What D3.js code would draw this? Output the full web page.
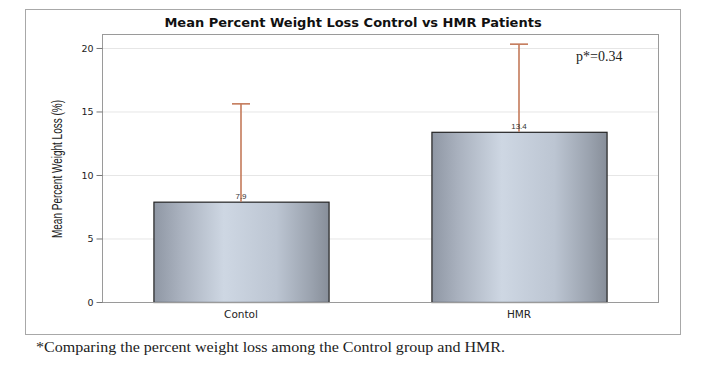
<!DOCTYPE html>
<html><head><meta charset="utf-8">
<script src="https://cdn.jsdelivr.net/npm/d3@7"></script>
<style>body{margin:0;background:#fff}svg{display:block}</style>
</head><body><svg id="c" width="706" height="365"></svg>
<script>
const categories = ["Contol", "HMR"];
const means = [7.9, 13.4];
const upperErr = [15.6, 20.3];
const valueLabels = ["7.9", "13.4"];
const yTicks = [0, 5, 10, 15, 20];
const title = "Mean Percent Weight Loss Control vs HMR Patients";
const yTitle = "Mean Percent Weight Loss (%)";
const pText = "p*=0.34";
const footnote = "*Comparing the percent weight loss among the Control group and HMR.";

const svg = d3.select("#c");
const defs = svg.append("defs");
const grad = defs.append("linearGradient").attr("id","barg").attr("x1","0").attr("x2","1").attr("y1","0").attr("y2","0");
[[0,"#8f97a4"],[0.15,"#a9b1be"],[0.4,"#ced7e3"],[0.7,"#bcc5d2"],[0.9,"#9aa2ae"],[1,"#878e99"]]
  .forEach(([o,c])=>grad.append("stop").attr("offset",o).attr("stop-color",c));

// outer frame
svg.append("rect").attr("x",25.5).attr("y",9.5).attr("width",655).attr("height",325)
  .attr("fill","#fff").attr("stroke","#a8a8a8");

const L=102, R=658, T=34, B=302;
const y = d3.scaleLinear().domain([0,21.1]).range([B,T]);
const x = d3.scaleBand().domain(categories).range([L,R]).paddingInner(0.37).paddingOuter(0.185);

// gridlines
svg.append("g").selectAll("line").data(yTicks.filter(d=>d>0)).join("line")
  .attr("x1",L).attr("x2",R).attr("y1",d=>y(d)+0.5).attr("y2",d=>y(d)+0.5)
  .attr("stroke","#e6e6e6");

// bars
svg.append("g").selectAll("rect").data(categories).join("rect")
  .attr("x",d=>x(d)+0.5).attr("width",x.bandwidth())
  .attr("y",(d,i)=>y(means[i])+0.5).attr("height",(d,i)=>B-y(means[i]))
  .attr("fill","url(#barg)").attr("stroke","#222").attr("stroke-width",1.2);

// error bars
const eg = svg.append("g").attr("stroke","#c47a5a").attr("stroke-width",1.6);
categories.forEach((c,i)=>{
  const cx = x(c)+x.bandwidth()/2;
  eg.append("line").attr("x1",cx).attr("x2",cx).attr("y1",y(means[i])).attr("y2",y(upperErr[i]));
  eg.append("line").attr("x1",cx-9).attr("x2",cx+9).attr("y1",y(upperErr[i])).attr("y2",y(upperErr[i]));
});

// value labels
svg.append("g").selectAll("text").data(categories).join("text")
  .attr("x",d=>x(d)+x.bandwidth()/2).attr("y",(d,i)=>y(means[i])-3)
  .attr("text-anchor","middle").attr("font-family","Liberation Sans, Arial, sans-serif")
  .attr("font-size",8).attr("fill","#333").text((d,i)=>valueLabels[i]);

// plot border
svg.append("rect").attr("x",L+0.5).attr("y",T+0.5).attr("width",R-L).attr("height",B-T)
  .attr("fill","none").attr("stroke","#9a9a9a");

// axes
const ya = svg.append("g").attr("transform",`translate(${L+0.5},0)`)
  .call(d3.axisLeft(y).tickValues(yTicks).tickSize(6).tickPadding(3));
ya.select(".domain").remove();
ya.selectAll("line").attr("stroke","#777");
ya.selectAll("text").attr("font-family","Verdana, DejaVu Sans, sans-serif").attr("font-size",9.5).attr("fill","#222");

const xa = svg.append("g").attr("transform",`translate(0,${B+0.5})`)
  .call(d3.axisBottom(x).tickSize(0).tickPadding(8));
xa.select(".domain").remove();
xa.selectAll("text").attr("font-family","Verdana, DejaVu Sans, sans-serif").attr("font-size",10.5).attr("fill","#222");

// title
svg.append("text").attr("x",353).attr("y",27).attr("text-anchor","middle")
  .attr("font-family","Verdana, DejaVu Sans, sans-serif").attr("font-weight","bold")
  .attr("font-size",13).attr("fill","#111").text(title);

// y title
svg.append("text").attr("transform","translate(62,169) rotate(-90)").attr("text-anchor","middle")
  .attr("font-family","Liberation Sans, Arial, sans-serif")
  .attr("font-size",14).attr("textLength",138).attr("lengthAdjust","spacingAndGlyphs")
  .attr("fill","#222").text(yTitle);

// p value
svg.append("text").attr("x",576).attr("y",61)
  .attr("font-family","Liberation Serif, Times New Roman, serif").attr("font-size",14).attr("fill","#222").text(pText);

// footnote
svg.append("text").attr("x",36).attr("y",352)
  .attr("font-family","Liberation Serif, Times New Roman, serif").attr("font-size",15)
  .attr("textLength",469).attr("lengthAdjust","spacingAndGlyphs").attr("fill","#222").text(footnote);
</script></body></html>
